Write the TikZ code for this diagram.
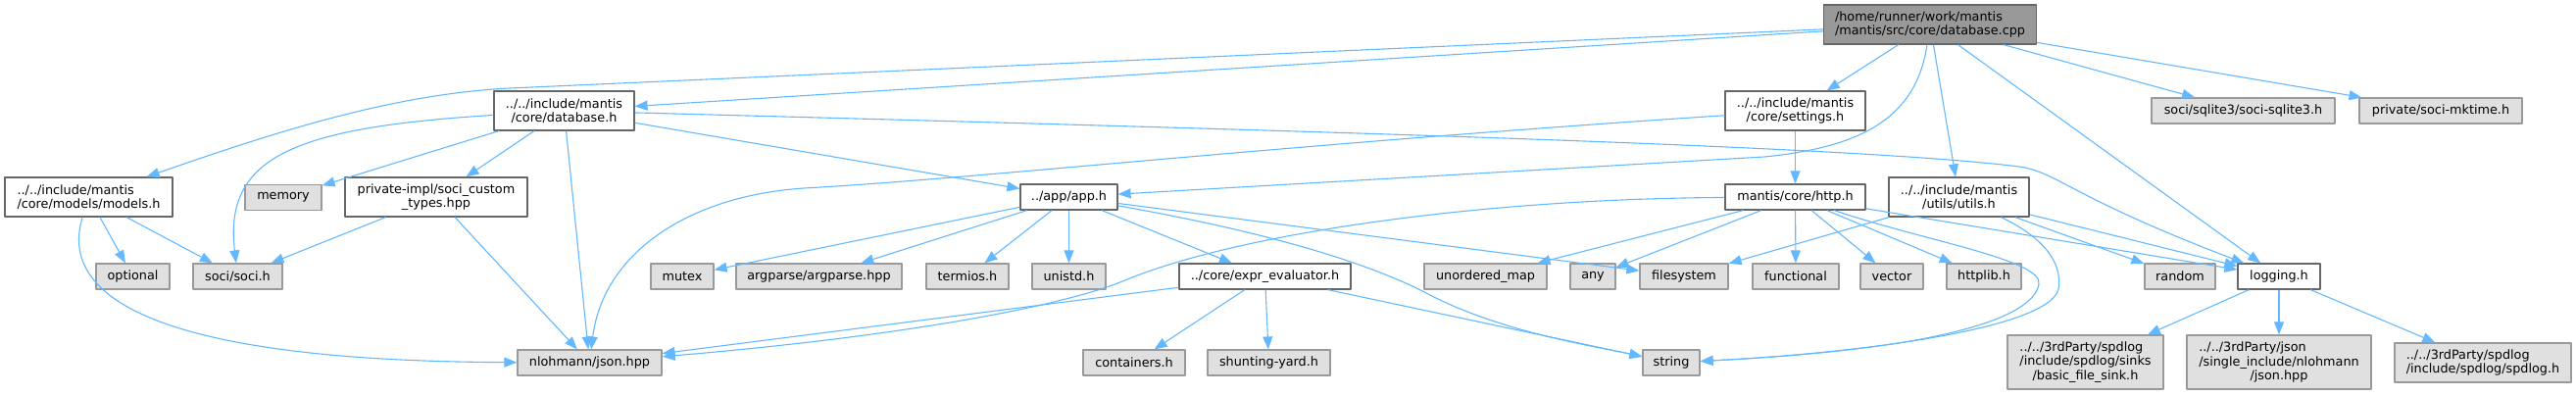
\documentclass[tikz,border=0pt]{standalone}
\usepackage{fontspec}
\setmainfont{DejaVu Sans}
\usetikzlibrary{arrows.meta}
\definecolor{edgeblue}{HTML}{63B8FF}
\definecolor{extfill}{HTML}{E0E0E0}
\definecolor{extline}{HTML}{999999}
\definecolor{fileline}{HTML}{666666}
\definecolor{rootfill}{HTML}{999999}
\begin{document}
\begin{tikzpicture}[x=.5pt, y=-.5pt, font=\fontsize{6.4}{7.2}\selectfont, line join=round, >={Triangle[length=6.5pt,width=5pt]},
    box/.style={draw, line width=.6pt, inner sep=0pt, align=center},
    wh/.style 2 args={minimum width=#1*.5pt, minimum height=#2*.5pt},
    ext/.style={box, fill=extfill, draw=extline},
    inc/.style={box, fill=white, draw=fileline},
    root/.style={box, fill=rootfill, draw=fileline},
    dep/.style={->, draw=edgeblue, line width=.55pt}]
    \useasboundingbox (0,0) rectangle (2628,403);
    \node[root, wh={217}{40}, align=left] (dbcpp) at (1969,25) {/home/runner/work/mantis\\/mantis/src/core/database.cpp};
    \node[inc, wh={143}{40}] (dbh) at (575.5,113) {../../include/mantis\\/core/database.h};
    \node[inc, wh={143}{40}] (settings) at (1831.5,113) {../../include/mantis\\/core/settings.h};
    \node[ext, wh={187}{26}] (sqlite3) at (2288.5,113) {soci/sqlite3/soci-sqlite3.h};
    \node[ext, wh={166}{26}] (mktime) at (2490,113) {private/soci-mktime.h};
    \node[inc, wh={171}{40}, align=left] (models) at (90.5,201) {../../include/mantis\\/core/models/models.h};
    \node[ext, wh={78}{26}] (memory) at (289,201.5) {memory};
    \node[inc, wh={186}{40}] (private) at (445,201) {private-impl/soci\_custom\\\_types.hpp};
    \node[inc, wh={99}{26}] (app) at (1090.5,201) {../app/app.h};
    \node[inc, wh={143}{26}] (http) at (1831.5,201) {mantis/core/http.h};
    \node[inc, wh={143}{40}] (utils) at (1998.5,201) {../../include/mantis\\/utils/utils.h};
    \node[ext, wh={75}{26}] (optional) at (135.5,282) {optional};
    \node[ext, wh={91}{26}] (soci) at (242.5,282) {soci/soci.h};
    \node[ext, wh={64}{26}] (mutex) at (696,282) {mutex};
    \node[ext, wh={169}{26}] (argparse) at (835.5,282) {argparse/argparse.hpp};
    \node[ext, wh={84}{26}] (termios) at (987,282) {termios.h};
    \node[ext, wh={75}{26}] (unistd) at (1090.5,282) {unistd.h};
    \node[inc, wh={175}{26}] (expr) at (1290.5,282) {../core/expr\_evaluator.h};
    \node[ext, wh={125}{26}] (unordered) at (1515.5,282) {unordered\_map};
    \node[ext, wh={46}{26}] (any) at (1625,282) {any};
    \node[ext, wh={90}{26}] (filesystem) at (1718,282) {filesystem};
    \node[ext, wh={88}{26}] (functional) at (1832,282) {functional};
    \node[ext, wh={64}{26}] (vector) at (1930,282) {vector};
    \node[ext, wh={76}{26}] (httplib) at (2024,282) {httplib.h};
    \node[ext, wh={72}{26}] (random) at (2224,282) {random};
    \node[inc, wh={84}{26}] (logging) at (2325,282) {logging.h};
    \node[ext, wh={147}{26}] (json) at (601.5,370) {nlohmann/json.hpp};
    \node[ext, wh={104}{26}] (containers) at (1157,370) {containers.h};
    \node[ext, wh={125}{26}] (shunting) at (1294.5,370) {shunting-yard.h};
    \node[ext, wh={58}{26}] (string) at (1705,370) {string};
    \node[ext, wh={159}{55}] (basic) at (2127.5,369.5) {\rlap{../../3rdParty/spdlog}\phantom{/include/spdlog/sinks}\\/include/spdlog/sinks\\/basic\_file\_sink.h};
    \node[ext, wh={188}{55}] (json3) at (2325,369.5) {\rlap{../../3rdParty/json}\phantom{/single\_include/nlohmann}\\/single\_include/nlohmann\\/json.hpp};
    \node[ext, wh={180}{40}, align=left] (spdlog) at (2533,370) {../../3rdParty/spdlog\\/include/spdlog/spdlog.h};
    \foreach \a/\b in {dbcpp/dbh, dbcpp/settings, dbcpp/utils, dbcpp/logging, dbcpp/sqlite3, dbcpp/mktime, dbh/memory, dbh/private, dbh/json, dbh/app, models/optional, models/soci, private/soci, private/json, settings/http, app/mutex, app/argparse, app/termios, app/unistd, app/expr, app/filesystem, expr/json, expr/containers, expr/shunting, expr/string, http/unordered, http/any, http/functional, http/vector, http/httplib, http/logging, utils/filesystem, utils/random, utils/logging, logging/basic, logging/json3, logging/spdlog}
        \draw[dep] (\a) -- (\b);
    \draw[dep] (dbcpp) -- (520,90) .. controls (400,96) and (280,135) .. (models);
    \draw[dep] (dbcpp) .. controls (1955,120) and (1900,150) .. (1800,160) -- (app);
    \draw[dep] (settings) .. controls (1300,148) and (1000,182) .. (820,192) .. controls (700,200) and (615,260) .. (json);
    \draw[dep] (http) .. controls (1500,203) and (1260,240) .. (1150,285) .. controls (1080,315) and (900,345) .. (json);
    \draw[dep] (app) .. controls (1300,238) and (1400,270) .. (1457,300) .. controls (1530,338) and (1620,352) .. (string);
    \draw[dep] (dbh) .. controls (300,130) and (228,160) .. (soci);
    \draw[dep] (models) .. controls (60,300) and (150,368) .. (json);
    \draw[dep] (dbh) .. controls (1400,135) and (1900,150) .. (2060,170) .. controls (2100,176) and (2110,200) .. (logging);
    \draw[dep] (http) .. controls (1960,245) and (2085,265) .. (2080,290) .. controls (2075,320) and (2000,355) .. (string);
    \draw[dep] (utils) .. controls (2080,240) and (2105,265) .. (2100,295) .. controls (2090,335) and (1900,360) .. (string);
\end{tikzpicture}
\end{document}
